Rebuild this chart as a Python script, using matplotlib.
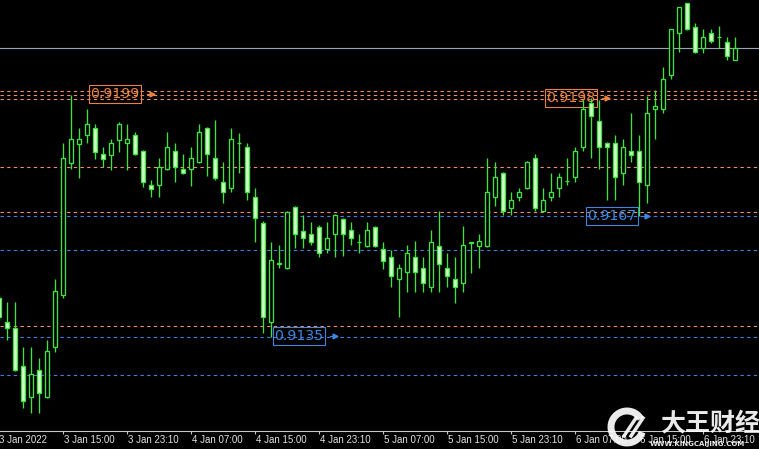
import matplotlib.pyplot as plt
from matplotlib.patches import Arc

# hourly candles (oldest first)
opens = [0.91453, 0.91389, 0.91373, 0.91273, 0.91191, 0.91262, 0.91191, 0.91323, 0.91461, 0.91810,
         0.91860, 0.91884, 0.91902, 0.91834, 0.91831, 0.91871, 0.91863, 0.91884, 0.91842, 0.91752,
         0.91752, 0.91794, 0.91842, 0.91794, 0.91794, 0.91813, 0.91902, 0.91823, 0.91760, 0.91744,
         0.91863, 0.91852, 0.91720, 0.91651, 0.91389, 0.91545, 0.91532, 0.91694, 0.91630, 0.91622,
         0.91641, 0.91582, 0.91622, 0.91662, 0.91633, 0.91601, 0.91590, 0.91641, 0.91582, 0.91561,
         0.91503, 0.91522, 0.91561, 0.91532, 0.91482, 0.91590, 0.91532, 0.91503, 0.91492, 0.91598,
         0.91590, 0.91590, 0.91720, 0.91783, 0.91691, 0.91720, 0.91744, 0.91823, 0.91683, 0.91720,
         0.91744, 0.91762, 0.91773, 0.91852, 0.91969, 0.91921, 0.91863, 0.91863, 0.91783, 0.91842,
         0.91842, 0.91752, 0.91953, 0.91953, 0.92043, 0.92154, 0.92233, 0.92170, 0.92114, 0.92154,
         0.92143, 0.92130, 0.92082]
highs = [0.91461, 0.91442, 0.91442, 0.91323, 0.91323, 0.91294, 0.91342, 0.91503, 0.91863, 0.91990,
         0.91902, 0.91953, 0.91913, 0.91852, 0.91873, 0.91918, 0.91913, 0.91892, 0.91844, 0.91765,
         0.91823, 0.91892, 0.91863, 0.91834, 0.91852, 0.91913, 0.91905, 0.91924, 0.91813, 0.91902,
         0.91889, 0.91863, 0.91744, 0.91656, 0.91601, 0.91593, 0.91683, 0.91696, 0.91672, 0.91654,
         0.91646, 0.91654, 0.91675, 0.91664, 0.91654, 0.91622, 0.91654, 0.91643, 0.91601, 0.91580,
         0.91543, 0.91593, 0.91604, 0.91561, 0.91633, 0.91683, 0.91572, 0.91561, 0.91643, 0.91601,
         0.91622, 0.91823, 0.91813, 0.91786, 0.91733, 0.91744, 0.91815, 0.91834, 0.91744, 0.91783,
         0.91783, 0.91823, 0.91852, 0.91977, 0.91982, 0.91977, 0.91865, 0.91884, 0.91873, 0.91942,
         0.91884, 0.91987, 0.92003, 0.92064, 0.92164, 0.92222, 0.92233, 0.92180, 0.92164, 0.92164,
         0.92172, 0.92143, 0.92143]
lows = [0.91395, 0.91342, 0.91260, 0.91162, 0.91149, 0.91149, 0.91188, 0.91310, 0.91453, 0.91794,
        0.91770, 0.91863, 0.91820, 0.91799, 0.91791, 0.91839, 0.91791, 0.91831, 0.91746, 0.91720,
        0.91720, 0.91791, 0.91760, 0.91781, 0.91749, 0.91810, 0.91776, 0.91765, 0.91704, 0.91733,
        0.91783, 0.91712, 0.91601, 0.91360, 0.91350, 0.91532, 0.91530, 0.91585, 0.91585, 0.91593,
        0.91561, 0.91572, 0.91561, 0.91564, 0.91593, 0.91572, 0.91588, 0.91588, 0.91530, 0.91482,
        0.91403, 0.91469, 0.91469, 0.91469, 0.91469, 0.91469, 0.91482, 0.91440, 0.91469, 0.91519,
        0.91532, 0.91588, 0.91696, 0.91672, 0.91672, 0.91709, 0.91741, 0.91683, 0.91680, 0.91709,
        0.91720, 0.91752, 0.91760, 0.91842, 0.91823, 0.91794, 0.91712, 0.91712, 0.91752, 0.91813,
        0.91670, 0.91704, 0.91873, 0.91942, 0.92032, 0.92103, 0.92162, 0.92101, 0.92101, 0.92127,
        0.92114, 0.92082, 0.92082]
closes = [0.91403, 0.91373, 0.91262, 0.91180, 0.91252, 0.91202, 0.91313, 0.91471, 0.91823, 0.91873,
          0.91873, 0.91913, 0.91839, 0.91820, 0.91863, 0.91913, 0.91873, 0.91834, 0.91760, 0.91741,
          0.91799, 0.91852, 0.91799, 0.91783, 0.91823, 0.91892, 0.91834, 0.91770, 0.91733, 0.91873,
          0.91863, 0.91733, 0.91664, 0.91403, 0.91553, 0.91543, 0.91680, 0.91622, 0.91612, 0.91601,
          0.91572, 0.91612, 0.91672, 0.91622, 0.91612, 0.91601, 0.91633, 0.91590, 0.91551, 0.91511,
          0.91532, 0.91572, 0.91522, 0.91492, 0.91601, 0.91543, 0.91511, 0.91482, 0.91593, 0.91601,
          0.91604, 0.91733, 0.91773, 0.91683, 0.91712, 0.91733, 0.91813, 0.91691, 0.91712, 0.91733,
          0.91773, 0.91762, 0.91842, 0.91953, 0.91934, 0.91852, 0.91852, 0.91773, 0.91852, 0.91831,
          0.91760, 0.91942, 0.91961, 0.92032, 0.92164, 0.92222, 0.92164, 0.92103, 0.92143, 0.92133,
          0.92143, 0.92093, 0.92114]

time_labels = ["3 Jan 2022", "3 Jan 15:00", "3 Jan 23:10", "4 Jan 07:00", "4 Jan 15:00",
               "4 Jan 23:10", "5 Jan 07:00", "5 Jan 15:00", "5 Jan 23:10", "6 Jan 07:00",
               "6 Jan 15:00", "6 Jan 23:10"]
time_pos = list(range(0, 89, 8))

bid_level = 0.92114
orange_levels = [0.9200, 0.9199, 0.9198, 0.9180, 0.9168, 0.9138]
blue_levels = [0.9167, 0.9158, 0.9135, 0.9125]

# swing high / low price labels
mark_text = ["0.9199", "0.9198", "0.9167", "0.9135"]
mark_price = [0.91992, 0.91982, 0.91670, 0.91352]
mark_x = [11.44, 68.44, 73.56, 34.44]
mark_arrow_x = [19.1, 76.0, 81.0, 42.0]
mark_color = ["#E8823C", "#E8823C", "#3F86E0", "#3F86E0"]

green = "#3FE23F"
bear_fill = "#D6FFCC"

fig = plt.figure(figsize=(7.59, 4.49), dpi=100, facecolor="black")
ax = fig.add_axes([0, 18 / 449, 1, 431 / 449])
ax.set_facecolor("black")
ax.set_xlim(0.125, 95)
ax.set_ylim(0.91101, 0.92241)

# levels
dash = (0, (3, 3))
ax.axhline(bid_level, color="#9AA4B8", lw=0.8, zorder=1)
for p in orange_levels:
    ax.axhline(p, color="#F09060", lw=0.8, ls=dash, zorder=1)
for p in blue_levels:
    ax.axhline(p, color="#3F80E0", lw=0.8, ls=dash, zorder=1)

# candles
xs = list(range(len(opens)))
ax.vlines(xs, lows, highs, color=green, lw=0.95, zorder=3)
for x, o, c in zip(xs, opens, closes):
    fc = "black" if c >= o else bear_fill
    ax.bar(x, abs(c - o), bottom=min(o, c), width=0.5, facecolor=fc,
           edgecolor=green, linewidth=0.95, zorder=4)

# price labels
for t, p, x, arr_x, col in zip(mark_text, mark_price, mark_x, mark_arrow_x, mark_color):
    ax.text(x, p, t, color=col, fontsize=10.2, va="center", ha="left", zorder=2,
            bbox=dict(boxstyle="square,pad=0.12", fc="none", ec=col, lw=0.8))
    ax.plot([arr_x - 0.6, arr_x], [p, p], color=col, lw=0.8, zorder=2)
    ax.plot(arr_x, p, marker=">", ms=3.5, color=col, zorder=2)

# time axis
for s in ["top", "left", "right"]:
    ax.spines[s].set_visible(False)
ax.spines["bottom"].set_color("#C8C8C8")
ax.spines["bottom"].set_linewidth(0.8)
ax.set_yticks([])
ax.set_xticks(time_pos[1:])
ax.set_xticklabels([])
ax.tick_params(axis="x", direction="out", length=2.5, width=0.8, color="#C8C8C8")
for pos, lab in zip(time_pos, time_labels):
    x0 = pos + 0.15 if pos > 0 else -0.05
    ax.text(x0, -9 / 431, lab, transform=ax.get_xaxis_transform(),
            color="#E0E0E0", fontsize=7, family="Liberation Sans",
            ha="left", va="center", clip_on=False)

# watermark
logo = Arc((627 / 759, 1 - 427 / 449), 32 / 759, 32 / 449, theta1=45, theta2=330,
           transform=fig.transFigure, color="white", lw=5, alpha=0.92)
fig.add_artist(logo)
for dx in (0, 7):
    fig.add_artist(plt.Line2D([(624 + dx) / 759, (636 + dx) / 759],
                              [1 - 436 / 449, 1 - 418 / 449],
                              transform=fig.transFigure, color="white", lw=2.5, alpha=0.92))
fig.text(660 / 759, 1 - 423 / 449, "大王财经", color="white", fontsize=18,
         family=["Noto Sans CJK SC", "DejaVu Sans"], weight="bold",
         ha="left", va="center", alpha=0.92)
fig.text(650 / 759, 1 - 444 / 449, "WWW.KINGCAIJING.COM", color="white", fontsize=5,
         weight="bold", ha="left", va="center", alpha=0.9)

fig.savefig("out.png", dpi=100, facecolor="black")
